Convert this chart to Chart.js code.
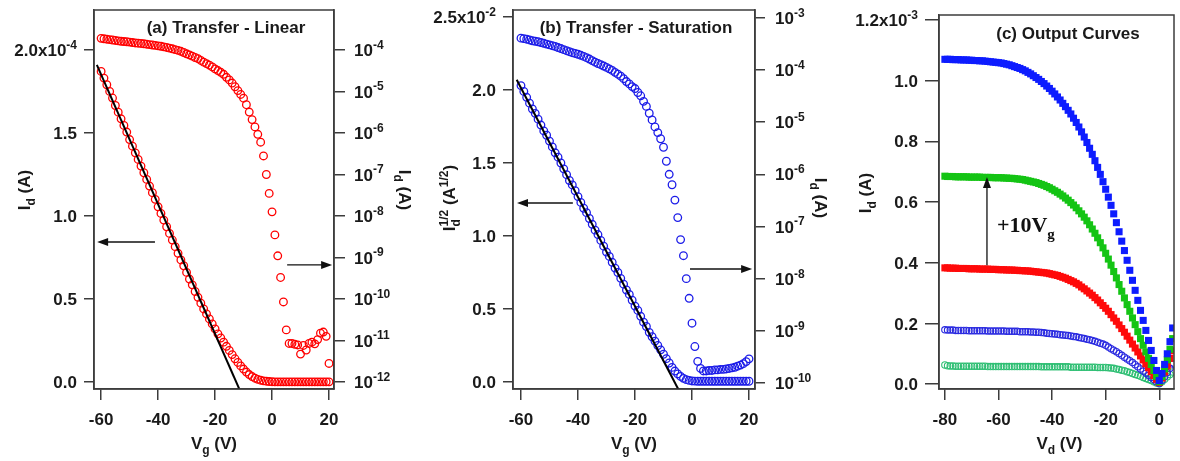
<!DOCTYPE html>
<html>
<head>
<meta charset="utf-8">
<script src="https://cdn.jsdelivr.net/npm/chart.js@4.4.1/dist/chart.umd.min.js"></script>
<style>
  html, body { margin: 0; padding: 0; background: #fff; }
  #wrap { position: relative; width: 1180px; height: 461px; }
  #wrap canvas { position: absolute; left: 0; top: 0; }
</style>
</head>
<body>
<div id="wrap">
  <canvas id="chart-a" width="1180" height="461"></canvas>
  <canvas id="chart-b" width="1180" height="461"></canvas>
  <canvas id="chart-c" width="1180" height="461"></canvas>
</div>
<script>
// ---- data ----
// gate sweep for (a) and (b), volts
const vgSweep = [
  -60, -59, -58, -57, -56, -55, -54, -53, -52, -51,
  -50, -49, -48, -47, -46, -45, -44, -43, -42, -41,
  -40, -39, -38, -37, -36, -35, -34, -33, -32, -31,
  -30, -29, -28, -27, -26, -25, -24, -23, -22, -21,
  -20, -19, -18, -17, -16, -15, -14, -13, -12, -11,
  -10, -9, -8, -7, -6, -5, -4, -3, -2, -1,
  0, 1, 2, 3, 4, 5, 6, 7, 8, 9,
  10, 11, 12, 13, 14, 15, 16, 17, 18, 19, 20
];

// (a) Id on linear axis, units of 1e-4 A
const idLinA = [
  1.87, 1.83, 1.79, 1.75, 1.71, 1.665, 1.625, 1.585, 1.545, 1.505,
  1.46, 1.42, 1.38, 1.34, 1.30, 1.26, 1.22, 1.18, 1.14, 1.10,
  1.055, 1.015, 0.975, 0.935, 0.895, 0.855, 0.815, 0.775, 0.735, 0.70,
  0.66, 0.62, 0.585, 0.545, 0.51, 0.475, 0.44, 0.41, 0.38, 0.35,
  0.32, 0.29, 0.265, 0.24, 0.215, 0.19, 0.165, 0.14, 0.118, 0.097,
  0.078, 0.06, 0.045, 0.033, 0.023, 0.016, 0.011, 0.007, 0.005, 0.003,
  0.002, 0.001, 0.001, 0.001, 0.001, 0.001, 0.001, 0.001, 0.001, 0.001,
  0.001, 0.001, 0.001, 0.001, 0.001, 0.001, 0.001, 0.001, 0.001, 0.001, 0.001
];
// (a) Id on log axis, A
const idLogA = [
  1.91e-4, 1.86e-4, 1.82e-4, 1.78e-4, 1.74e-4, 1.70e-4, 1.66e-4, 1.62e-4, 1.60e-4, 1.58e-4,
  1.55e-4, 1.51e-4, 1.48e-4, 1.46e-4, 1.44e-4, 1.41e-4, 1.38e-4, 1.35e-4, 1.32e-4, 1.29e-4,
  1.26e-4, 1.23e-4, 1.19e-4, 1.15e-4, 1.11e-4, 1.07e-4, 1.02e-4, 9.8e-5, 9.3e-5, 8.7e-5,
  8.1e-5, 7.6e-5, 7.1e-5, 6.6e-5, 6.2e-5, 5.6e-5, 5.1e-5, 4.7e-5, 4.3e-5, 3.9e-5,
  3.5e-5, 3.2e-5, 2.9e-5, 2.6e-5, 2.2e-5, 1.9e-5, 1.6e-5, 1.3e-5, 1.05e-5, 8.5e-6,
  6.9e-6, 4.8e-6, 3.2e-6, 2.1e-6, 1.4e-6, 9.3e-7, 6.0e-7, 2.8e-7, 1.0e-7, 3.5e-8,
  1.26e-8, 3.5e-9, 1.1e-9, 3.3e-10, 8.5e-11, 1.8e-11, 8.5e-12, 8.5e-12, 8.1e-12, 7.8e-12,
  4.7e-12, 7.6e-12, 5.9e-12, 8.5e-12, 9.1e-12, 8.3e-12, 1.05e-11, 1.5e-11, 1.6e-11, 1.26e-11, 2.8e-12
];
// (a) linear fit line end points
const fitVgA = [-61.5, -11.5];
const fitIdA = [1.91, -0.042];

// (b) sqrt(Id), units of 1e-2 A^1/2
const sqrtIdB = [
  2.03, 1.99, 1.95, 1.91, 1.87, 1.84, 1.80, 1.76, 1.72, 1.69,
  1.65, 1.61, 1.57, 1.54, 1.50, 1.46, 1.42, 1.38, 1.35, 1.31,
  1.27, 1.23, 1.19, 1.16, 1.12, 1.08, 1.04, 1.01, 0.97, 0.93,
  0.89, 0.86, 0.82, 0.78, 0.75, 0.71, 0.67, 0.63, 0.60, 0.56,
  0.52, 0.49, 0.45, 0.41, 0.38, 0.34, 0.31, 0.28, 0.25, 0.22,
  0.19, 0.16, 0.13, 0.10, 0.075, 0.055, 0.038, 0.025, 0.016, 0.011,
  0.007, 0.006, 0.005, 0.005, 0.005, 0.005, 0.005, 0.005, 0.005, 0.005,
  0.005, 0.005, 0.005, 0.005, 0.005, 0.005, 0.005, 0.005, 0.005, 0.005, 0.005
];
// (b) Id on log axis, A
const idLogB = [
  4.07e-4, 3.98e-4, 3.89e-4, 3.76e-4, 3.63e-4, 3.55e-4, 3.47e-4, 3.35e-4, 3.24e-4, 3.13e-4,
  3.02e-4, 2.92e-4, 2.82e-4, 2.69e-4, 2.57e-4, 2.45e-4, 2.34e-4, 2.24e-4, 2.14e-4, 2.07e-4,
  2.0e-4, 1.91e-4, 1.82e-4, 1.72e-4, 1.62e-4, 1.51e-4, 1.41e-4, 1.33e-4, 1.26e-4, 1.19e-4,
  1.12e-4, 1.05e-4, 9.8e-5, 9.0e-5, 8.3e-5, 7.6e-5, 6.8e-5, 6.0e-5, 5.4e-5, 4.8e-5,
  4.4e-5, 3.7e-5, 3.2e-5, 2.5e-5, 2.0e-5, 1.48e-5, 1.1e-5, 8.1e-6, 6.3e-6, 4.8e-6,
  3.3e-6, 1.78e-6, 1.0e-6, 6.3e-7, 3.2e-7, 1.48e-7, 5.6e-8, 2.75e-8, 1.0e-8, 4.2e-9,
  1.4e-9, 5.0e-10, 2.6e-10, 1.9e-10, 1.7e-10, 1.7e-10, 1.74e-10, 1.74e-10, 1.78e-10, 1.78e-10,
  1.82e-10, 1.82e-10, 1.86e-10, 1.9e-10, 1.95e-10, 2.0e-10, 2.1e-10, 2.2e-10, 2.35e-10, 2.57e-10, 2.9e-10
];
const fitVgB = [-61.5, -4.8];
const fitSqrtB = [2.07, -0.05];

// (c) drain sweep, volts
const vdSweep = [
  -80, -79, -78, -77, -76, -75, -74, -73, -72, -71,
  -70, -69, -68, -67, -66, -65, -64, -63, -62, -61,
  -60, -59, -58, -57, -56, -55, -54, -53, -52, -51,
  -50, -49, -48, -47, -46, -45, -44, -43, -42, -41,
  -40, -39, -38, -37, -36, -35, -34, -33, -32, -31,
  -30, -29, -28, -27, -26, -25, -24, -23, -22, -21,
  -20, -19, -18, -17, -16, -15, -14, -13, -12, -11,
  -10, -9, -8, -7, -6, -5, -4, -3, -2, -1,
  0, 1, 2, 3, 4, 5
];
// (c) output curves, units of 1e-3 A
const idBlueSq = [
  1.070, 1.070, 1.070, 1.069, 1.069, 1.069, 1.068, 1.068, 1.068, 1.067,
  1.067, 1.066, 1.066, 1.065, 1.065, 1.064, 1.063, 1.062, 1.061, 1.060,
  1.059, 1.058, 1.056, 1.054, 1.052, 1.049, 1.046, 1.043, 1.040, 1.036,
  1.032, 1.027, 1.022, 1.016, 1.010, 1.004, 0.997, 0.990, 0.982, 0.974,
  0.965, 0.956, 0.946, 0.936, 0.925, 0.914, 0.902, 0.890, 0.876, 0.862,
  0.847, 0.831, 0.814, 0.796, 0.777, 0.757, 0.736, 0.714, 0.691, 0.667,
  0.642, 0.616, 0.589, 0.561, 0.532, 0.502, 0.471, 0.440, 0.408, 0.375,
  0.342, 0.309, 0.276, 0.243, 0.210, 0.177, 0.144, 0.111, 0.078, 0.045,
  0.012, 0.035, 0.065, 0.100, 0.140, 0.185
];
const idGreenSq = [
  0.685, 0.684, 0.684, 0.684, 0.683, 0.683, 0.683, 0.683, 0.683, 0.682,
  0.682, 0.682, 0.682, 0.682, 0.681, 0.681, 0.681, 0.681, 0.680, 0.680,
  0.680, 0.680, 0.679, 0.679, 0.678, 0.678, 0.677, 0.676, 0.675, 0.674,
  0.672, 0.670, 0.668, 0.666, 0.664, 0.661, 0.658, 0.655, 0.651, 0.647,
  0.642, 0.637, 0.632, 0.626, 0.620, 0.613, 0.606, 0.598, 0.590, 0.581,
  0.571, 0.561, 0.550, 0.538, 0.525, 0.511, 0.497, 0.482, 0.466, 0.449,
  0.431, 0.412, 0.392, 0.371, 0.350, 0.328, 0.306, 0.284, 0.262, 0.240,
  0.218, 0.196, 0.173, 0.150, 0.128, 0.106, 0.085, 0.065, 0.045, 0.026,
  0.008, 0.025, 0.050, 0.080, 0.115, 0.150
];
const idRedSq = [
  0.383, 0.383, 0.382, 0.382, 0.382, 0.381, 0.381, 0.381, 0.381, 0.380,
  0.380, 0.380, 0.380, 0.379, 0.379, 0.379, 0.379, 0.378, 0.378, 0.378,
  0.377, 0.377, 0.377, 0.376, 0.376, 0.376, 0.375, 0.375, 0.374, 0.374,
  0.373, 0.373, 0.372, 0.371, 0.370, 0.369, 0.368, 0.367, 0.366, 0.364,
  0.362, 0.360, 0.358, 0.355, 0.352, 0.349, 0.345, 0.341, 0.337, 0.332,
  0.327, 0.320, 0.314, 0.307, 0.300, 0.293, 0.285, 0.277, 0.268, 0.259,
  0.250, 0.240, 0.229, 0.218, 0.207, 0.195, 0.183, 0.171, 0.158, 0.145,
  0.132, 0.119, 0.106, 0.093, 0.080, 0.067, 0.054, 0.041, 0.028, 0.016,
  0.006, 0.020, 0.040, 0.060, 0.085, 0.110
];
const idBlueCirc = [
  0.179, 0.178, 0.178, 0.178, 0.177, 0.177, 0.177, 0.177, 0.177, 0.176,
  0.176, 0.176, 0.176, 0.176, 0.176, 0.176, 0.175, 0.175, 0.175, 0.175,
  0.175, 0.175, 0.175, 0.174, 0.174, 0.174, 0.174, 0.174, 0.173, 0.173,
  0.173, 0.173, 0.172, 0.172, 0.171, 0.171, 0.170, 0.169, 0.168, 0.167,
  0.166, 0.165, 0.164, 0.163, 0.162, 0.161, 0.160, 0.159, 0.157, 0.156,
  0.154, 0.152, 0.150, 0.148, 0.146, 0.144, 0.141, 0.138, 0.135, 0.132,
  0.128, 0.122, 0.117, 0.112, 0.107, 0.101, 0.095, 0.089, 0.083, 0.077,
  0.071, 0.064, 0.057, 0.050, 0.043, 0.036, 0.029, 0.022, 0.015, 0.008,
  0.002, 0.012, 0.025, 0.038, 0.052, 0.066
];
const idGreenCirc = [
  0.063, 0.061, 0.060, 0.060, 0.059, 0.059, 0.059, 0.059, 0.059, 0.059,
  0.059, 0.059, 0.059, 0.059, 0.059, 0.059, 0.058, 0.058, 0.058, 0.058,
  0.058, 0.058, 0.058, 0.058, 0.058, 0.058, 0.058, 0.058, 0.058, 0.058,
  0.058, 0.058, 0.058, 0.058, 0.058, 0.058, 0.057, 0.057, 0.057, 0.057,
  0.057, 0.057, 0.057, 0.057, 0.057, 0.057, 0.057, 0.056, 0.056, 0.056,
  0.056, 0.056, 0.056, 0.056, 0.056, 0.056, 0.056, 0.055, 0.055, 0.055,
  0.055, 0.054, 0.053, 0.052, 0.050, 0.048, 0.046, 0.044, 0.041, 0.038,
  0.035, 0.032, 0.029, 0.026, 0.022, 0.019, 0.015, 0.012, 0.008, 0.004,
  0.001, 0.008, 0.016, 0.024, 0.032, 0.040
];

// ---- ticks and labels ----
const vgTicks = [-60, -40, -20, 0, 20];
const vgLabels = ['-60', '-40', '-20', '0', '20'];
const aLinTicks = [0, 0.5, 1.0, 1.5, 2.0];
const aLinLabels = ['0.0', '0.5', '1.0', '1.5', '2.0x10^{-4}'];
const aLogTicks = [1e-12, 1e-11, 1e-10, 1e-9, 1e-8, 1e-7, 1e-6, 1e-5, 1e-4];
const aLogLabels = ['10^{-12}', '10^{-11}', '10^{-10}', '10^{-9}', '10^{-8}', '10^{-7}', '10^{-6}', '10^{-5}', '10^{-4}'];
const bSqrtTicks = [0, 0.5, 1.0, 1.5, 2.0, 2.5];
const bSqrtLabels = ['0.0', '0.5', '1.0', '1.5', '2.0', '2.5x10^{-2}'];
const bLogTicks = [1e-10, 1e-9, 1e-8, 1e-7, 1e-6, 1e-5, 1e-4, 1e-3];
const bLogLabels = ['10^{-10}', '10^{-9}', '10^{-8}', '10^{-7}', '10^{-6}', '10^{-5}', '10^{-4}', '10^{-3}'];
const vdTicks = [-80, -60, -40, -20, 0];
const vdLabels = ['-80', '-60', '-40', '-20', '0'];
const cTicks = [0, 0.2, 0.4, 0.6, 0.8, 1.0, 1.2];
const cLabels = ['0.0', '0.2', '0.4', '0.6', '0.8', '1.0', '1.2x10^{-3}'];

// ---- drawing helpers ----
const FONT = '"Liberation Sans", Arial, sans-serif';
const SERIF = '"Liberation Serif", "Times New Roman", serif';
const INK = '#1a1a1a';
const FRAME = '#3c3c3c';

function richSegments(str) {
  const out = [];
  let buf = '', i = 0;
  while (i < str.length) {
    const c = str[i];
    if ((c === '^' || c === '_') && str[i + 1] === '{') {
      if (buf) { out.push({ t: buf, m: 'n' }); buf = ''; }
      const end = str.indexOf('}', i);
      out.push({ t: str.slice(i + 2, end), m: c === '^' ? 'sup' : 'sub' });
      i = end + 1;
    } else { buf += c; i++; }
  }
  if (buf) out.push({ t: buf, m: 'n' });
  return out;
}

// text with ^{sup} and _{sub}; y is the middle of the capitals
function drawRich(ctx, str, x, y, align, size, family) {
  family = family || FONT;
  const big = `bold ${size}px ${family}`;
  const small = `bold ${Math.round(size * 0.68)}px ${family}`;
  const items = [];
  let cx = 0, subAt = null;
  for (const s of richSegments(str)) {
    const font = s.m === 'n' ? big : small;
    ctx.font = font;
    const w = ctx.measureText(s.t).width;
    if (s.m === 'sup' && subAt !== null) {
      items.push({ ...s, font, x: subAt });
      cx = Math.max(cx, subAt + w);
      subAt = null;
      continue;
    }
    items.push({ ...s, font, x: cx });
    subAt = s.m === 'sub' ? cx : null;
    cx += w;
  }
  const x0 = align === 'right' ? x - cx : align === 'center' ? x - cx / 2 : x;
  const base = y + size * 0.36;
  ctx.textAlign = 'left';
  ctx.textBaseline = 'alphabetic';
  for (const it of items) {
    ctx.font = it.font;
    const dy = it.m === 'sup' ? -size * 0.42 : it.m === 'sub' ? size * 0.3 : 0;
    ctx.fillText(it.t, x0 + it.x, base + dy);
  }
}

function drawArrow(ctx, x1, y1, x2, y2) {
  const a = Math.atan2(y2 - y1, x2 - x1), L = 11, W = 4;
  const c = Math.cos(a), s = Math.sin(a);
  ctx.beginPath();
  ctx.moveTo(x1, y1);
  ctx.lineTo(x2 - L * 0.8 * c, y2 - L * 0.8 * s);
  ctx.stroke();
  ctx.beginPath();
  ctx.moveTo(x2, y2);
  ctx.lineTo(x2 - L * c + W * s, y2 - L * s - W * c);
  ctx.lineTo(x2 - L * c - W * s, y2 - L * s + W * c);
  ctx.closePath();
  ctx.fill();
}

// frame, tick labels, titles and arrows
function decor(spec) {
  return {
    id: 'decor',
    afterDraw(chart) {
      const { ctx, chartArea: ca, scales } = chart;
      ctx.save();
      ctx.strokeStyle = FRAME;
      ctx.lineWidth = 1.5;
      ctx.strokeRect(ca.left, ca.top, ca.right - ca.left, ca.bottom - ca.top);

      ctx.fillStyle = INK;
      spec.tickLabels.forEach(([id, labels]) => {
        const s = scales[id];
        s.ticks.forEach((t, i) => {
          const p = s.getPixelForValue(t.value);
          if (s.position === 'left') drawRich(ctx, labels[i], ca.left - spec.gap, p, 'right', 17);
          else if (s.position === 'right') drawRich(ctx, labels[i], ca.right + 20, p, 'left', 17);
          else drawRich(ctx, labels[i], p, ca.bottom + 29.5, 'center', 17);
        });
      });

      spec.texts.forEach(tx => {
        ctx.save();
        ctx.translate(tx.x(ca), tx.y(ca));
        ctx.rotate(tx.rot || 0);
        drawRich(ctx, tx.text, 0, 0, tx.align || 'center', tx.size || 17, tx.family);
        ctx.restore();
      });

      ctx.strokeStyle = '#111';
      ctx.fillStyle = '#111';
      ctx.lineWidth = 1.3;
      const sx = scales.x, sy = scales[spec.arrowAxis];
      (spec.arrows || []).forEach(ar => {
        drawArrow(ctx, sx.getPixelForValue(ar.from[0]), sy.getPixelForValue(ar.from[1]),
          sx.getPixelForValue(ar.to[0]), sy.getPixelForValue(ar.to[1]));
      });
      (spec.notes || []).forEach(n => {
        drawRich(ctx, n.text, sx.getPixelForValue(n.at[0]), sy.getPixelForValue(n.at[1]), 'left', n.size, n.family);
      });
      ctx.restore();
    }
  };
}

function axis(position, min, max, tickVals, tickLength, extra) {
  return Object.assign({
    position, min, max,
    afterBuildTicks: s => { s.ticks = tickVals.map(v => ({ value: v })); },
    afterFit: s => { if (s.isHorizontal()) s.height = 0; else s.width = 0; },
    ticks: { display: false },
    grid: { drawOnChartArea: false, drawTicks: true, tickLength, color: FRAME, lineWidth: 1.5 },
    border: { display: true, color: FRAME, width: 1.5 }
  }, extra || {});
}

const pts = (xs, ys) => xs.map((x, i) => ({ x, y: ys[i] }));

function circleSet(xs, ys, color, yAxisID, r) {
  return {
    data: pts(xs, ys), yAxisID, showLine: false,
    pointStyle: 'circle', pointRadius: r, pointBorderWidth: 1.3,
    pointBorderColor: color, pointBackgroundColor: 'rgba(0,0,0,0)'
  };
}
function squareSet(xs, ys, color) {
  return {
    data: pts(xs, ys), yAxisID: 'y', showLine: false,
    pointStyle: 'rect', pointRadius: 5, pointBorderWidth: 0,
    pointBorderColor: color, pointBackgroundColor: color
  };
}
function fitSet(xs, ys) {
  return {
    data: pts(xs, ys), yAxisID: 'yL', showLine: true,
    borderColor: '#000', borderWidth: 2, pointRadius: 0
  };
}

const common = pad => ({
  responsive: false,
  animation: false,
  events: [],
  devicePixelRatio: 1,
  layout: { padding: pad, autoPadding: false },
  plugins: { legend: { display: false }, tooltip: { enabled: false } }
});

const RED = '#ff0000';
const BLUE_B = '#1c1ce8';

// (a) Transfer - Linear
new Chart(document.getElementById('chart-a'), {
  type: 'scatter',
  data: {
    datasets: [
      fitSet(fitVgA, fitIdA),
      circleSet(vgSweep, idLinA, RED, 'yL', 3.8),
      circleSet(vgSweep, idLogA, RED, 'yR', 3.8)
    ]
  },
  options: Object.assign(common({ left: 94, right: 846, top: 10, bottom: 72 }), {
    scales: {
      x: axis('bottom', -62.5, 21.75, vgTicks, 11),
      yL: axis('left', -0.042, 2.24, aLinTicks, 10),
      yR: axis('right', 6.78e-13, 9.2e-4, aLogTicks, 11, { type: 'logarithmic' })
    }
  }),
  plugins: [decor({
    gap: 17,
    arrowAxis: 'yL',
    tickLabels: [['x', vgLabels], ['yL', aLinLabels], ['yR', aLogLabels]],
    texts: [
      { text: '(a) Transfer - Linear', x: ca => ca.left + 132, y: ca => ca.top + 17 },
      { text: 'I_{d} (A)', x: ca => ca.left - 70, y: () => 190, rot: -Math.PI / 2 },
      { text: 'I_{d} (A)', x: ca => ca.right + 71, y: () => 190, rot: Math.PI / 2 },
      { text: 'V_{g} (V)', x: ca => (ca.left + ca.right) / 2, y: ca => ca.bottom + 54 }
    ],
    arrows: [
      { from: [-41.1, 0.843], to: [-61.4, 0.843] },
      { from: [5.3, 0.705], to: [21.1, 0.705] }
    ]
  })]
});

// (b) Transfer - Saturation
new Chart(document.getElementById('chart-b'), {
  type: 'scatter',
  data: {
    datasets: [
      fitSet(fitVgB, fitSqrtB),
      circleSet(vgSweep, sqrtIdB, BLUE_B, 'yL', 3.8),
      circleSet(vgSweep, idLogB, BLUE_B, 'yR', 3.8)
    ]
  },
  options: Object.assign(common({ left: 513, right: 425, top: 10, bottom: 72 }), {
    scales: {
      x: axis('bottom', -62.8, 22.1, vgTicks, 11),
      yL: axis('left', -0.048, 2.548, bSqrtTicks, 10),
      yR: axis('right', 7.67e-11, 1.41e-3, bLogTicks, 10, { type: 'logarithmic' })
    }
  }),
  plugins: [decor({
    gap: 17,
    arrowAxis: 'yL',
    tickLabels: [['x', vgLabels], ['yL', bSqrtLabels], ['yR', bLogLabels]],
    texts: [
      { text: '(b) Transfer - Saturation', x: ca => ca.left + 123, y: ca => ca.top + 17 },
      { text: 'I_{d}^{1/2} (A^{1/2})', x: ca => ca.left - 64, y: () => 198, rot: -Math.PI / 2 },
      { text: 'I_{d} (A)', x: ca => ca.right + 66, y: () => 198, rot: Math.PI / 2 },
      { text: 'V_{g} (V)', x: ca => (ca.left + ca.right) / 2, y: ca => ca.bottom + 54 }
    ],
    arrows: [
      { from: [-41.8, 1.226], to: [-61.4, 1.226] },
      { from: [-0.7, 0.774], to: [21.1, 0.774] }
    ]
  })]
});

// (c) Output Curves
new Chart(document.getElementById('chart-c'), {
  type: 'scatter',
  data: {
    datasets: [
      squareSet(vdSweep, idBlueSq, '#0d1cff'),
      squareSet(vdSweep, idGreenSq, '#14c414'),
      squareSet(vdSweep, idRedSq, '#ff0a0a'),
      Object.assign(circleSet(vdSweep, idBlueCirc, '#2a2ae0', 'y', 3.2), { pointBorderWidth: 1.1 }),
      Object.assign(circleSet(vdSweep, idGreenCirc, '#2fbf74', 'y', 3.2), { pointBorderWidth: 1.1 })
    ]
  },
  options: Object.assign(common({ left: 939, right: 6, top: 15, bottom: 72 }), {
    scales: {
      x: axis('bottom', -82.2, 5.5, vdTicks, 11),
      y: axis('left', -0.016, 1.216, cTicks, 14)
    }
  }),
  plugins: [decor({
    gap: 21,
    arrowAxis: 'y',
    tickLabels: [['x', vdLabels], ['y', cLabels]],
    texts: [
      { text: '(c) Output Curves', x: ca => ca.left + 129, y: ca => ca.top + 18 },
      { text: 'I_{d} (A)', x: ca => ca.left - 74, y: () => 193, rot: -Math.PI / 2 },
      { text: 'V_{d} (V)', x: ca => (ca.left + ca.right) / 2 + 3, y: ca => ca.bottom + 54 }
    ],
    arrows: [
      { from: [-64.3, 0.392], to: [-64.3, 0.682] }
    ],
    notes: [
      { text: '+10V_{g}', at: [-60.6, 0.527], size: 22, family: SERIF }
    ]
  })]
});
</script>
</body>
</html>
